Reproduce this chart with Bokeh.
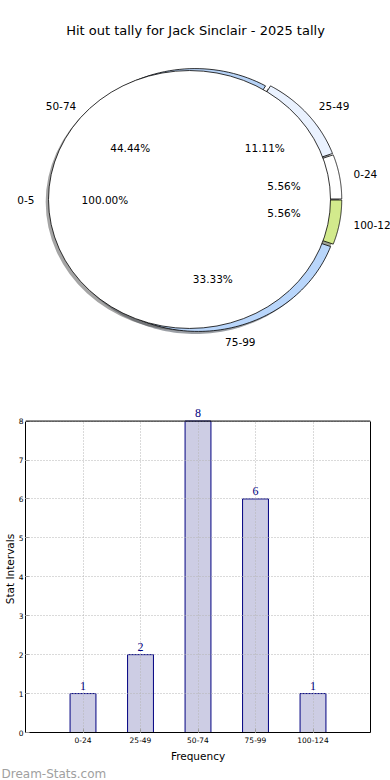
import numpy as np
from bokeh.plotting import figure
from bokeh.models import (Range1d, ColumnDataSource, FixedTicker, LabelSet, Label,
                          LinearAxis, Span, Title)
from bokeh.layouts import column
from bokeh.embed import file_html
from bokeh.resources import INLINE
from bokeh.core.properties import value

# ---------------- data ----------------
chart_title = "Hit out tally for Jack Sinclair - 2025 tally"
categories = ["0-24", "25-49", "50-74", "75-99", "100-124"]
counts = [1, 2, 8, 6, 1]
slice_colors = ["#ffffff", "#eaf2ff", "#b6d2f6", "#b9d6fb", "#d2ea8c"]
outer_label = "0-5"
outer_share = 100.0
x_title = "Frequency"
y_title = "Stat Intervals"
y_ticks = [0, 1, 2, 3, 4, 5, 6, 7, 8]
watermark = "Dream-Stats.com"

FONT = value("DejaVu Sans")

# ---------------- pie ----------------
PW, PH = 390, 380
SX, SY = 141.0, 129.0          # px per pie-radius unit
CXP, CYP = 189.0, 199.0        # white pie centre in figure px (from left / top)
pie = figure(width=PW, height=PH, output_backend="svg", toolbar_location=None,
             x_range=Range1d(-CXP / SX, (PW - CXP) / SX),
             y_range=Range1d(-(PH - CYP) / SY, CYP / SY),
             min_border=0)
pie.frame_align = False
pie.axis.visible = False
pie.grid.visible = False
pie.outline_line_color = None
pie.background_fill_color = "white"

ccx, ccy = 0.057, 0.0   # centre of the coloured pie
explode = 0.023
shadow_off = (-0.02, -0.02)

total = float(sum(counts))
fracs = np.array(counts) / total
starts = np.concatenate([[0.0], np.cumsum(fracs)[:-1]]) * 2 * np.pi
ends = np.cumsum(fracs) * 2 * np.pi
mids = (starts + ends) / 2


def shade(hexc):
    h = hexc.lstrip("#")
    r, g, b = [int(h[i:i + 2], 16) for i in (0, 2, 4)]
    return "#%02x%02x%02x" % (int(r * 0.3), int(g * 0.3), int(b * 0.3))


xs, ys, sxs, sys_ = [], [], [], []
for t1, t2, tm in zip(starts, ends, mids):
    ox = ccx + explode * np.cos(tm)
    oy = ccy + explode * np.sin(tm)
    th = np.linspace(t1, t2, 80)
    px = np.concatenate([[ox], ox + np.cos(th)])
    py = np.concatenate([[oy], oy + np.sin(th)])
    xs.append(px.tolist())
    ys.append(py.tolist())
    sxs.append((px + shadow_off[0]).tolist())
    sys_.append((py + shadow_off[1]).tolist())

# shadows (below everything)
pie.patches(xs=sxs, ys=sys_, fill_color=[shade(c) for c in slice_colors],
            fill_alpha=0.5, line_color=None)
pie.ellipse(x=[shadow_off[0]], y=[shadow_off[1]], width=2, height=2,
            fill_color=shade("#ffffff"), fill_alpha=0.5, line_color=None)
# coloured slices
pie.patches(xs=xs, ys=ys, fill_color=slice_colors, line_color="black", line_width=0.8)
# full white pie on top
pie.ellipse(x=[0], y=[0], width=2, height=2, fill_color="white",
            line_color="black", line_width=0.8)

# labels of coloured pie
lab_x = [ccx + (explode + 1.1) * np.cos(t) for t in mids]
lab_y = [ccy + (explode + 1.1) * np.sin(t) for t in mids]
lab_align = ["left" if np.cos(t) > 0 else "right" for t in mids]
pct_x = [ccx + (explode + 0.6) * np.cos(t) for t in mids]
pct_y = [ccy + (explode + 0.6) * np.sin(t) for t in mids]
pct_txt = ["%.2f%%" % (f * 100) for f in fracs]

lab_src = ColumnDataSource(dict(x=lab_x + [-1.1], y=lab_y + [0.0],
                                t=categories + [outer_label],
                                a=lab_align + ["right"]))
pie.text(x="x", y="y", text="t", text_align="a", text_baseline="middle",
         text_font=FONT, text_font_size="10.5px", text_color="black", source=lab_src)
pct_src = ColumnDataSource(dict(x=pct_x + [-0.6], y=pct_y + [0.0],
                                t=pct_txt + ["%.2f%%" % outer_share]))
pie.text(x="x", y="y", text="t", text_align="center", text_baseline="middle",
         text_font=FONT, text_font_size="10.5px", text_color="black", source=pct_src)

pie.add_layout(Label(x=(195 - CXP) / SX, y=(CYP - 30) / SY, text=chart_title,
                     text_align="center", text_baseline="middle",
                     text_font="DejaVu Sans", text_font_size="13px", text_color="black"))

# ---------------- bars ----------------
BW, BH = 390, 400
y_top = 8.4
bars = figure(width=BW, height=BH, output_backend="svg", toolbar_location=None,
              x_range=Range1d(0, len(categories) + 1), y_range=Range1d(0, y_top),
              min_border_left=19, min_border_right=20, min_border_top=25,
              min_border_bottom=40)
bars.frame_align = False
bars.background_fill_color = "white"
bars.outline_line_color = None

xpos = list(range(1, len(categories) + 1))
src = ColumnDataSource(dict(x=xpos, top=counts, lab=[str(c) for c in counts]))
bars.vbar(x="x", top="top", width=0.45, fill_color="#cdcde4", line_color="#000080",
          line_width=1, source=src)

ymax = max(y_ticks)
for g in (bars.xgrid, bars.ygrid):
    g.grid_line_color = "#b4b4b4"
    g.grid_line_dash = "1 2"
    g.grid_line_width = 1
    g.level = "guide"
bars.xgrid.ticker = FixedTicker(ticks=xpos)
bars.ygrid.ticker = FixedTicker(ticks=y_ticks)
if hasattr(bars.xgrid, "cross_bounds"):
    bars.xgrid.cross_bounds = (0, ymax)

xa = bars.xaxis[0]
xa.ticker = FixedTicker(ticks=xpos)
xa.major_label_overrides = {p: c for p, c in zip(xpos, categories)}
ya = bars.yaxis[0]
ya.ticker = FixedTicker(ticks=y_ticks)
ya.bounds = (0, ymax)
ra = LinearAxis(ticker=FixedTicker(ticks=[]), bounds=(0, ymax), major_label_standoff=0)
bars.add_layout(ra, "right")
for ax in (xa, ya, ra):
    ax.major_label_text_font = "DejaVu Sans"
    ax.major_label_text_color = "black"
    ax.major_tick_in = 4
    ax.major_tick_out = 0
    ax.major_tick_line_color = "#999999"
    ax.minor_tick_line_color = None
    ax.axis_line_color = "black"
    ax.axis_line_width = 1
xa.major_label_text_font_size = "7.5px"
ya.major_label_text_font_size = "7.5px"
xa.major_label_standoff = 4
ya.major_label_standoff = 2
for ax, t in ((xa, x_title), (ya, y_title)):
    ax.axis_label = t
    ax.axis_label_text_font = "DejaVu Sans"
    ax.axis_label_text_font_size = "10.5px"
    ax.axis_label_text_font_style = "normal"
    ax.axis_label_text_color = "black"
xa.axis_label_standoff = 4
ya.axis_label_standoff = 0

bars.add_layout(Span(location=ymax, dimension="width", line_color="black", line_width=1))

bars.add_layout(LabelSet(x="x", y="top", text="lab", source=src, y_offset=4,
                         text_align="center", text_baseline="alphabetic",
                         text_font="DejaVu Sans", text_font_size="12px",
                         text_color="#000080"))

bars.add_layout(Title(text=watermark, align="left", offset=-24, standoff=0,
                      text_font="DejaVu Sans", text_font_size="12px",
                      text_font_style="normal", text_color="#a0a0a0"), "below")

layout = column(pie, bars, spacing=0)
open("out.html", "w").write(file_html(layout, INLINE))
